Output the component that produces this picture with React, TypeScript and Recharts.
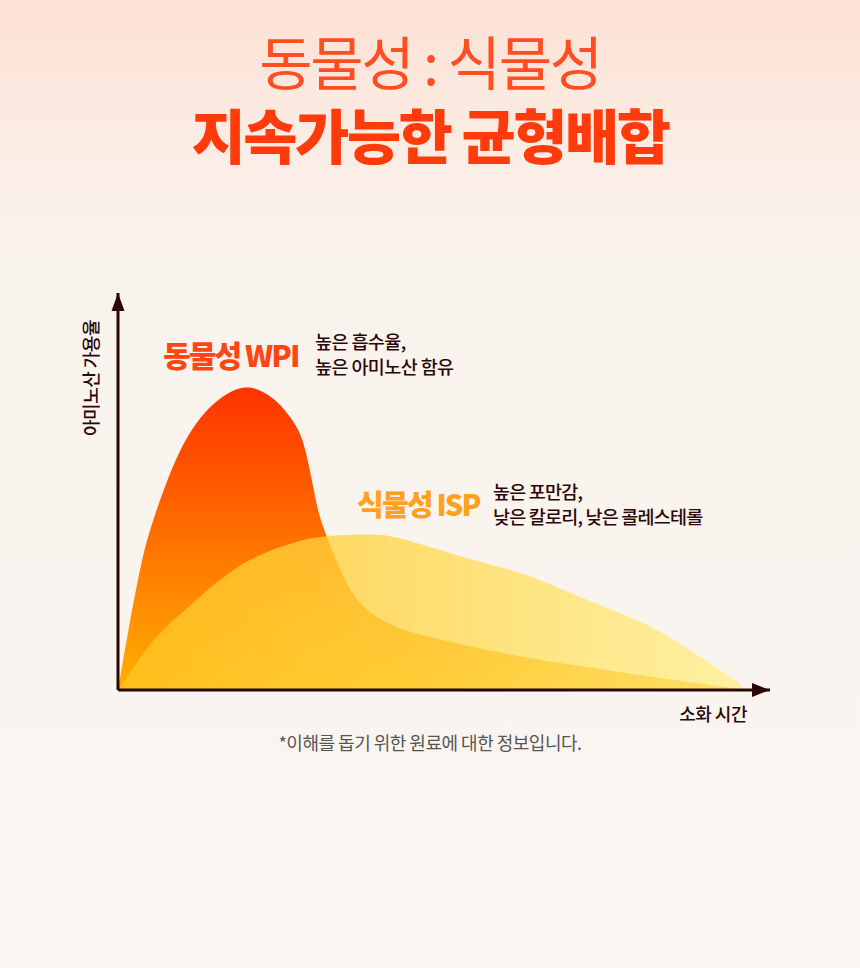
import React from 'react'
import { AreaChart, Area, XAxis, YAxis, ReferenceDot, ReferenceLine } from 'recharts'

// digestion time (x offset) and amino acid availability (0-100) for each source
const wpiTime = [0, 12, 25, 35, 49, 65, 82, 99, 115, 128, 141, 159, 175, 182, 187, 194, 200, 209, 219, 235, 252, 275, 309, 355, 389, 422, 455, 489, 522, 555, 589, 627]
const wpiValue = [0, 17.6, 34.5, 42.8, 52.9, 62.2, 68.8, 73.0, 75.6, 76.4, 75.8, 73.0, 68.0, 64.7, 61.2, 52.9, 44.6, 38.5, 32.0, 23.4, 19.4, 15.9, 13.4, 10.8, 9.1, 7.6, 6.3, 5.0, 3.8, 2.5, 1.5, 0]

const ispTime = [0, 12, 25, 42, 59, 75, 92, 109, 125, 142, 159, 175, 192, 209, 225, 255, 272, 289, 322, 355, 402, 422, 469, 502, 535, 569, 602, 622, 627]
const ispValue = [0, 4.3, 9.3, 14.4, 18.4, 21.9, 25.9, 29.0, 32.0, 34.0, 35.8, 37.0, 38.3, 38.8, 39.0, 39.3, 38.8, 37.8, 35.3, 32.7, 29.7, 27.7, 22.7, 19.4, 15.9, 10.6, 5.0, 1.8, 0]

const xMax = 652
const yMax = 100

const wpiData = wpiTime.map((t, i) => ({ t, v: wpiValue[i] }))
const ispData = ispTime.map((t, i) => ({ t, v: ispValue[i] }))

const font = '"Noto Sans CJK KR", "Noto Sans", sans-serif'
const dark = '#2b0707'

const RightArrow = (props: any) => {
  const { cx, cy } = props
  return <path d={`M${cx} ${cy} L${cx - 18} ${cy - 7} L${cx - 18} ${cy + 7} Z`} fill={dark} />
}

const UpArrow = (props: any) => {
  const { cx, cy } = props
  return <path d={`M${cx} ${cy} L${cx - 6.5} ${cy + 18} L${cx + 6.5} ${cy + 18} Z`} fill={dark} />
}

export default function App() {
  return (
    <div
      style={{
        position: 'absolute',
        left: 0,
        top: 0,
        width: 860,
        height: 968,
        overflow: 'hidden',
        fontFamily: font,
        background: 'linear-gradient(180deg, #fde0d3 0%, #fbebe2 13%, #f9f3ed 27%, #f9f5f0 100%)'
      }}
    >
      <div style={{ position: 'absolute', top: 25, left: 0, width: 860, textAlign: 'center', fontSize: 58, color: '#ff4f22', letterSpacing: -2.3, lineHeight: '70px' }}>
        동물성 : 식물성
      </div>
      <div style={{ position: 'absolute', top: 99, left: 0, width: 860, textAlign: 'center', fontSize: 59, fontWeight: 900, color: '#ff3b0c', letterSpacing: -2.5, lineHeight: '70px' }}>
        지속가능한 균형배합
      </div>

      <AreaChart
        width={860}
        height={968}
        style={{ position: 'absolute', left: 0, top: 0 }}
        margin={{ top: 293, right: 90, left: 118, bottom: 278 }}
      >
        <defs>
          <linearGradient id="wpiFill" x1="0" y1="0" x2="0" y2="1">
            <stop offset="0%" stopColor="#ff3300" />
            <stop offset="45%" stopColor="#ff6a00" />
            <stop offset="100%" stopColor="#ffb000" />
          </linearGradient>
          <linearGradient id="ispFill" x1="0" y1="0" x2="1" y2="0">
            <stop offset="0%" stopColor="#ffc21f" stopOpacity={0.85} />
            <stop offset="50%" stopColor="#ffd84a" stopOpacity={0.75} />
            <stop offset="100%" stopColor="#fff08a" stopOpacity={0.75} />
          </linearGradient>
        </defs>
        <XAxis dataKey="t" type="number" domain={[0, xMax]} hide />
        <YAxis type="number" domain={[0, yMax]} hide />
        <Area data={wpiData} dataKey="v" type="basis" stroke="none" fill="url(#wpiFill)" fillOpacity={1} dot={false} activeDot={false} isAnimationActive={false} />
        <Area data={ispData} dataKey="v" type="basis" stroke="none" fill="url(#ispFill)" fillOpacity={1} dot={false} activeDot={false} isAnimationActive={false} />
        <ReferenceLine y={0} stroke={dark} strokeWidth={3} ifOverflow="visible" />
        <ReferenceLine x={0} stroke={dark} strokeWidth={3} ifOverflow="visible" />
        <ReferenceDot x={xMax} y={0} ifOverflow="visible" shape={RightArrow} />
        <ReferenceDot x={0} y={yMax} ifOverflow="visible" shape={UpArrow} />
      </AreaChart>

      <div style={{ position: 'absolute', left: 163, top: 332, fontSize: 30, fontWeight: 900, color: '#ff4512', letterSpacing: -1.9 }}>동물성 WPI</div>
      <div style={{ position: 'absolute', left: 315, top: 329, fontSize: 18.5, fontWeight: 500, color: dark, lineHeight: '25px', letterSpacing: -0.6 }}>
        높은 흡수율,
        <br />
        높은 아미노산 함유
      </div>

      <div style={{ position: 'absolute', left: 357, top: 482, fontSize: 29, fontWeight: 900, color: '#ffa11e', letterSpacing: -1.8 }}>식물성 ISP</div>
      <div style={{ position: 'absolute', left: 493, top: 479, fontSize: 18.5, fontWeight: 500, color: dark, lineHeight: '25px', letterSpacing: -0.8 }}>
        높은 포만감,
        <br />
        낮은 칼로리, 낮은 콜레스테롤
      </div>

      <div style={{ position: 'absolute', right: 860 - 747, top: 700, fontSize: 18, fontWeight: 500, color: dark, letterSpacing: -0.5 }}>소화 시간</div>
      <div
        style={{
          position: 'absolute',
          left: 90,
          top: 378,
          fontSize: 18,
          fontWeight: 500,
          color: dark,
          whiteSpace: 'nowrap',
          letterSpacing: -0.5,
          transform: 'translate(-50%, -50%) rotate(-90deg)'
        }}
      >
        아미노산 가용율
      </div>
      <div style={{ position: 'absolute', top: 729, left: 0, width: 860, textAlign: 'center', fontSize: 18, color: '#555', letterSpacing: -0.5 }}>
        *이해를 돕기 위한 원료에 대한 정보입니다.
      </div>
    </div>
  )
}
